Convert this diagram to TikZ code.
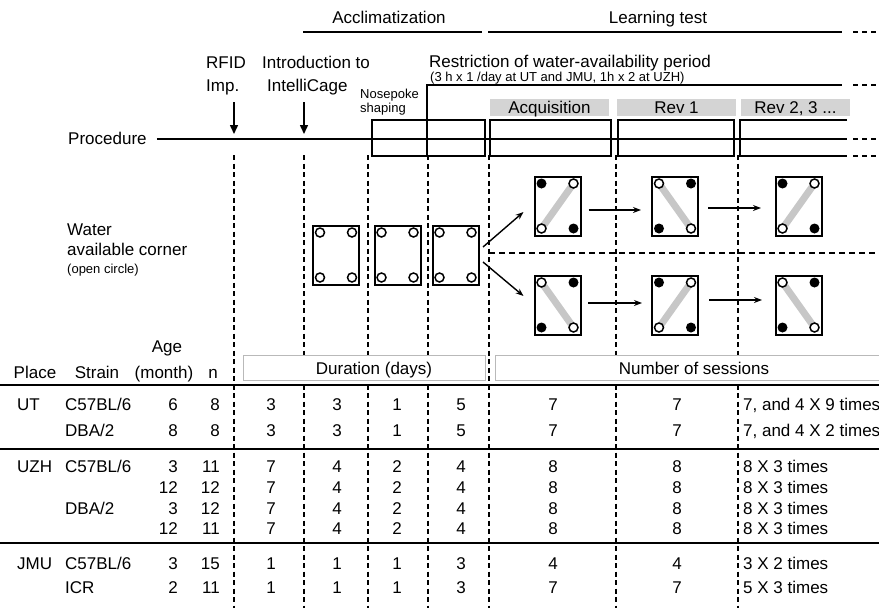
\documentclass[tikz,border=0pt]{standalone}
\usepackage{fontspec}
\setmainfont{Liberation Sans}
\usetikzlibrary{arrows.meta}
\pgfdeclarelayer{bg}
\pgfsetlayers{bg,main}
\definecolor{barcol}{gray}{0.78}
\definecolor{tagcol}{gray}{0.83}
\tikzset{
  txt/.style={inner sep=0pt, text height=12.2pt, text depth=0pt, font=\fontsize{17}{20}\selectfont},
  small/.style={inner sep=0pt, text height=9.4pt, text depth=0pt, font=\fontsize{13}{15}\selectfont},
  cage/.style={draw, line width=2pt, minimum width=46pt, minimum height=59pt, inner sep=0pt},
  hole/.style={circle, draw, line width=1.5pt, fill=white, minimum size=9pt, inner sep=0pt},
  plug/.style={circle, fill=black, minimum size=10pt, inner sep=0pt},
  bar/.style={draw=barcol, line width=7pt},
  divide/.style={dash pattern=on 5pt off 3.5pt, line width=1.6pt},
  rule/.style={line width=2pt},
  trail/.style={line width=2pt, dash pattern=on 5pt off 4pt},
  arr/.style={line width=1.4pt, -{Stealth[length=8pt,width=6pt]}},
  drop/.style={line width=1.5pt, -{Triangle[length=9pt,width=8pt]}},
  tag/.style={txt, fill=tagcol, minimum height=17pt},
  stage/.style={draw, line width=1.8pt, minimum height=36pt, inner sep=0pt},
  colhead/.style={draw=gray!55, fill=white, line width=0.6pt, minimum height=25pt, inner sep=0pt},
}
\newcommand{\cagebox}[4]{%
  \node[cage] (#1) at (#2,#3) {};
  \coordinate (#1tl) at ({#2-16},{#3-22.5});
  \coordinate (#1tr) at ({#2+16},{#3-22.5});
  \coordinate (#1bl) at ({#2-16},{#3+22.5});
  \coordinate (#1br) at ({#2+16},{#3+22.5});
  \ifcase#4\relax
    \foreach \k in {tl,tr,bl,br} \node[hole] (#1\k h) at (#1\k) {};
  \or
    \draw[bar] (#1bl) -- (#1tr);
    \node[hole] (#1trh) at (#1tr) {};
    \node[hole] (#1blh) at (#1bl) {};
    \node[plug] (#1tlp) at (#1tl) {};
    \node[plug] (#1brp) at (#1br) {};
  \or
    \draw[bar] (#1tl) -- (#1br);
    \node[hole] (#1tlh) at (#1tl) {};
    \node[hole] (#1brh) at (#1br) {};
    \node[plug] (#1trp) at (#1tr) {};
    \node[plug] (#1blp) at (#1bl) {};
  \fi}

\begin{document}
\begin{tikzpicture}[x=1pt,y=-1pt]
        \useasboundingbox (0,0) rectangle (879,608);
        \begin{pgfonlayer}{bg}
                \foreach \gx in {234,304,368,428,489,616,738}
                        \draw[divide] (\gx,155) -- (\gx,608);
                \draw[divide, dash pattern=on 6pt off 4pt] (489,253) -- (879,253);
        \end{pgfonlayer}

        \node[txt] (acc) at (389,17) {Acclimatization};
        \node[txt] (learn) at (658,17) {Learning test};
        \draw[rule] (303,32) -- (482,32);
        \draw[rule] (488,32) -- (842,32);
        \draw[trail] (853,32) -- (879,32);

        \node[txt, anchor=west] (rfid) at (206,62) {RFID};
        \node[txt, anchor=west] (imp) at (206,85) {Imp.};
        \node[txt, anchor=west] (intro) at (262,62) {Introduction to};
        \node[txt, anchor=west] (icage) at (267,85) {IntelliCage};
        \node[txt, anchor=west] (restr) at (429,61) {Restriction of water-availability period};
        \node[small, anchor=west] (restrsub) at (430,77) {(3 h x 1 /day at UT and JMU, 1h x 2 at UZH)};
        \node[small, anchor=west] (nose) at (360,94) {Nosepoke};
        \node[small, anchor=west] (shaping) at (360,108) {shaping};

        \coordinate (rfidtop) at (234,102);
        \coordinate (rfidtip) at (234,134);
        \coordinate (introtop) at (304,102);
        \coordinate (introtip) at (304,134);
        \draw[drop] (rfidtop) -- (rfidtip);
        \draw[drop] (introtop) -- (introtip);

        \node[txt, anchor=west] (proc) at (68,138) {Procedure};
        \coordinate (procend) at (847,139);
        \draw[rule] ([xshift=10pt]proc.east |- procend) -- (procend);
        \draw[trail] (853,139) -- (879,139);

        \node[stage, minimum width=113pt] (np) at (428.5,138) {};
        \node[stage, minimum width=121pt] (acqbox) at (550.5,138) {};
        \node[stage, minimum width=116pt] (rev1box) at (676,138) {};
        \draw[line width=1.8pt] (847,120) -- (740,120) -- (740,156) -- (847,156);
        \draw[trail] (853,156) -- (879,156);
        \draw[rule] (427,156) -- (427,85) -- (842,85);
        \draw[trail] (853,85) -- (879,85);

        \node[tag, minimum width=119pt] (acqtag) at (549.5,107.5) {Acquisition};
        \node[tag, minimum width=119pt] (rev1tag) at (676.5,107.5) {Rev 1};
        \node[tag, minimum width=109pt] (rev2tag) at (795.5,107.5) {Rev 2, 3 ...};

        \node[txt, anchor=west] (water) at (67,229) {Water};
        \node[txt, anchor=west] (corner) at (67,249) {available corner};
        \node[small, anchor=west] (opencirc) at (67,269) {(open circle)};

        \cagebox{c1}{336}{255}{0}
        \cagebox{c2}{397.5}{255}{0}
        \cagebox{c3}{455.5}{255}{0}
        \cagebox{ta}{557.5}{206}{1}
        \cagebox{tb}{675}{206}{2}
        \cagebox{tc}{798.5}{206}{1}
        \cagebox{ba}{557.5}{305}{2}
        \cagebox{bb}{675}{305}{1}
        \cagebox{bc}{798.5}{305}{2}

        \draw[arr] ([xshift=3.5pt,yshift=8pt]c3.east) -- ([xshift=-10pt,yshift=-6pt]ta.west);
        \draw[arr] ([xshift=3.5pt,yshift=-7pt]c3.east) -- ([xshift=-10pt,yshift=9pt]ba.west);
        \draw[arr] ([xshift=7pt,yshift=-4pt]ta.east) -- ([xshift=-10pt,yshift=-4pt]tb.west);
        \draw[arr] ([xshift=9pt,yshift=-2pt]tb.east) -- ([xshift=-13.5pt,yshift=-2pt]tc.west);
        \draw[arr] ([xshift=6.5pt,yshift=2pt]ba.east) -- ([xshift=-9pt,yshift=2pt]bb.west);
        \draw[arr] ([xshift=10pt,yshift=5pt]bb.east) -- ([xshift=-12.5pt,yshift=5pt]bc.west);

        \node[txt] (hplace) at (35,372) {Place};
        \node[txt] (hstrain) at (97,372) {Strain};
        \node[txt] (hage) at (167,346) {Age};
        \node[txt] (hmonth) at (164,372) {(month)};
        \node[txt] (hn) at (213,372) {n};
        \node[colhead, minimum width=242pt] (durbox) at (364,367.5) {};
        \node[txt] (dur) at (374,368) {Duration (days)};
        \node[colhead, minimum width=384pt] (sesbox) at (687,367.5) {};
        \node[txt] (ses) at (694,368) {Number of sessions};

        \draw[rule] (0,385) -- (879,385);
        \draw[rule] (0,449) -- (879,449);
        \draw[rule] (0,543) -- (879,543);

        \node[txt, anchor=west] (ut) at (17,404) {UT};
        \node[txt, anchor=west] (uzh) at (17,466) {UZH};
        \node[txt, anchor=west] (jmu) at (17,563) {JMU};
        \node[txt, anchor=west] (st1) at (65,404) {C57BL/6};
        \node[txt, anchor=west] (st2) at (65,430) {DBA/2};
        \node[txt, anchor=west] (st3) at (65,466) {C57BL/6};
        \node[txt, anchor=west] (st4) at (65,508) {DBA/2};
        \node[txt, anchor=west] (st5) at (65,563) {C57BL/6};
        \node[txt, anchor=west] (st6) at (65,587) {ICR};

        \foreach \ry/\ag/\nn/\da/\db/\dc/\dd/\sa/\sb/\sc [count=\i] in {
                404/6/8/3/3/1/5/7/7/{7, and 4 X 9 times},
                430/8/8/3/3/1/5/7/7/{7, and 4 X 2 times},
                466/3/11/7/4/2/4/8/8/{8 X 3 times},
                487/12/12/7/4/2/4/8/8/{8 X 3 times},
                508/3/12/7/4/2/4/8/8/{8 X 3 times},
                528/12/11/7/4/2/4/8/8/{8 X 3 times},
                563/3/15/1/1/1/3/4/4/{3 X 2 times},
                587/2/11/1/1/1/3/7/7/{5 X 3 times}}
        {
                \node[txt, anchor=east] (age\i) at (178,\ry) {\ag};
                \node[txt, anchor=east] (n\i) at (220,\ry) {\nn};
                \node[txt] (da\i) at (271,\ry) {\da};
                \node[txt] (db\i) at (337,\ry) {\db};
                \node[txt] (dc\i) at (397,\ry) {\dc};
                \node[txt] (dd\i) at (461,\ry) {\dd};
                \node[txt] (sa\i) at (553,\ry) {\sa};
                \node[txt] (sb\i) at (677,\ry) {\sb};
                \node[txt, anchor=west] (sc\i) at (743,\ry) {\sc};
        }
\end{tikzpicture}
\end{document}
